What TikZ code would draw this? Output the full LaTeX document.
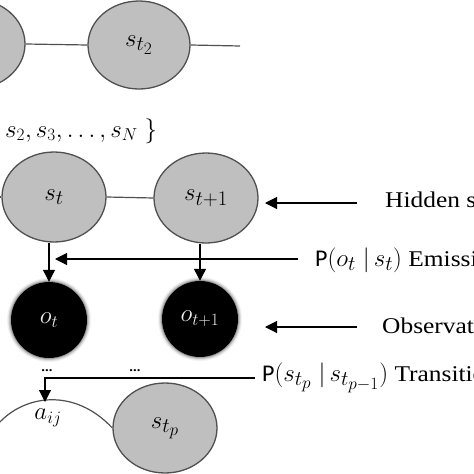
\documentclass[tikz,border=0pt]{standalone}
\usepackage{fontspec}
\setmainfont{Liberation Serif}[FakeStretch=1.13]
\newfontfamily\sansP{Carlito}
\usetikzlibrary{shapes.geometric,arrows.meta}
\DeclareMathSizes{23}{23}{18}{14}
\DeclareMathSizes{24}{24}{19}{15}
\DeclareMathSizes{25}{25}{20}{16}
\DeclareMathSizes{26}{26}{20}{16}
\definecolor{nodegray}{RGB}{191,191,191}
\definecolor{edgegray}{RGB}{80,80,80}
\newcommand{\lblmath}[1]{{\fontsize{26}{30}\selectfont$#1$}}
\newcommand{\lblP}{{\fontsize{24}{28}\selectfont\sansP P}}
\tikzset{
  hstate/.style={ellipse,draw=edgegray,line width=1.3pt,fill=nodegray,inner sep=0pt,
    minimum width=104pt,minimum height=90pt,font=\fontsize{25}{29}\selectfont},
  obsnode/.style={circle,fill=black,inner sep=0pt,minimum size=76pt,
    text=white!85!gray,font=\fontsize{24}{28}\selectfont},
  link/.style={draw=edgegray,line width=1.2pt},
  arr/.style={draw=black,line width=1.1pt,-{Triangle[length=12pt,width=12pt]}},
  lbl/.style={anchor=west,inner sep=0pt,font=\fontsize{22.5}{26}\selectfont},
  mlbl/.style={inner sep=0pt,font=\fontsize{23}{28}\selectfont},
}
\begin{document}
\begin{tikzpicture}[x=1pt,y=-1pt]
\useasboundingbox (0,0) rectangle (474,474);
\clip (0,0) rectangle (474,474);
\fill[white] (0,0) rectangle (474,474);

% top row
\node[hstate] (s0) at (-27,44) {};
\node[hstate,minimum width=102pt,minimum height=88pt] (st2) at (139,45) {$s_{t_2}$};
\coordinate (topend) at (240,46);
\draw[link] (s0.east) -- (st2.west);
\draw[link] (st2.east) -- (topend);

% set of states
\node[mlbl,anchor=west] (set) at (5,131) {$s_2, s_3, \ldots, s_N \;\}$};

% middle row hidden states
\coordinate (midstart) at (-5,197);
\node[hstate] (st) at (54,197) {$s_t$};
\node[hstate] (st1) at (206,198) {$s_{t+1}$};
\draw[link] (midstart) -- (st.west);
\draw[link] (st.east) -- (st1.east -| st1.west);

% observations (with soft glow)
\foreach \cx/\cy in {49/320,200/319}{
  \foreach \r/\op in {42/0.05,41/0.08,40/0.12,39/0.2}{
    \fill[black,opacity=\op] (\cx,\cy) circle (\r);
  }
}
\node[obsnode] (ot) at (49,320) {$o_t$};
\node[obsnode] (ot1) at (200,319) {$o_{t+1}$};

\draw[arr] (ot.north |- st.south) -- (ot.north);
\draw[arr] (ot1.north |- st1.south) -- (ot1.north);

% Hidden states label
\node[lbl] (hid) at (385,200) {Hidden states};
\coordinate (h1) at (357,203);
\coordinate (h2) at (265,203);
\draw[arr] (h1) -- (h2);

% Emission label
\node[lbl] (emi) at (315,260) {\lblP\lblmath{(o_t\;|\,s_t)} Emission};
\coordinate (e1) at (298,259);
\coordinate (e2) at (55,259);
\draw[arr] (e1) -- (e2);

% Observations label
\node[lbl] (obs) at (382,326) {Observations};
\coordinate (o1) at (357,327);
\coordinate (o2) at (265,327);
\draw[arr] (o1) -- (o2);

% dots
\node[inner sep=0pt,font=\fontsize{13}{15}\selectfont\bfseries] (d1) at (47,371) {...};
\node[inner sep=0pt,font=\fontsize{13}{15}\selectfont\bfseries] (d2) at (135,371) {...};

% bottom state
\node[hstate] (stp) at (165,428) {$s_{t_p}$};
\coordinate (arcstart) at (-2,424);
\draw[link] (arcstart) .. controls (25,394) and (75,388) .. (stp.west);
\node[mlbl] (aij) at (48,418) {$a_{ij}$};

% Transition label
\node[lbl] (tra) at (262,378) {\lblP\lblmath{(s_{t_p}\;|\,s_{t_{p-1}})} Transition};
\coordinate (t1) at (255,378);
\coordinate (t2) at (45,378);
\coordinate (t3) at (45,402);
\draw[arr] (t1) -- (t2) -- (t3);
\end{tikzpicture}
\end{document}
